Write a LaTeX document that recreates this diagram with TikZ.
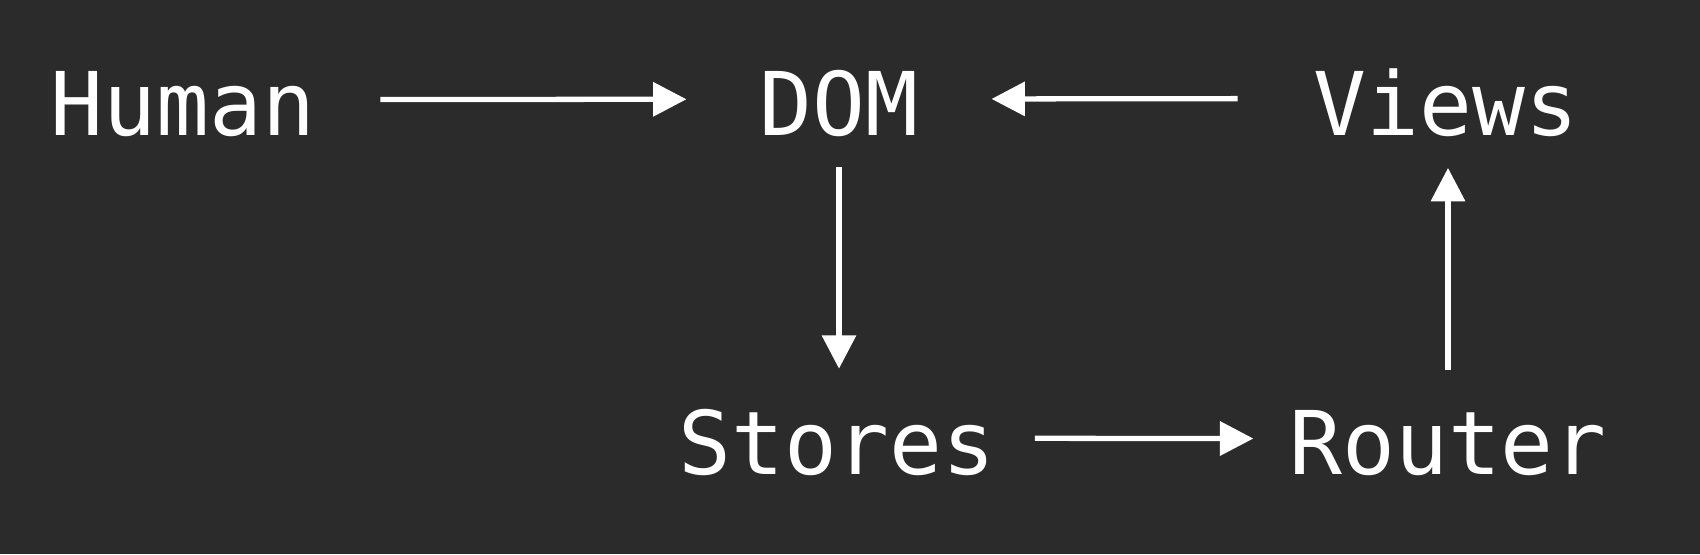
\documentclass[tikz,border=0pt]{standalone}
\usepackage{fontspec}
\setmonofont{DejaVu Sans Mono}
\usepackage{tikz}
\usetikzlibrary{arrows.meta,calc}
\definecolor{fond}{HTML}{2B2B2B}
\tikzstyle{word}=[text=white, inner sep=0pt, outer sep=0pt, anchor=base, font=\ttfamily\fontsize{25}{30}\selectfont]
\newcommand{\word}{\node[word]}

\begin{document}
\begin{tikzpicture}[x=0.01cm, y=-0.01cm]
			\tikzstyle{flow}=[draw=white, line width=1.5pt, -{Triangle[length=9.5pt,width=9.5pt]}]
			\tikzstyle{flowh}=[flow, transform canvas={yshift=1.1pt}]
			\fill[fond] (0,0) rectangle (1700,554);
			% Noeuds du haut
			\word (human) at (183,135) {Human};
			\word (dom) at (839,135) {DOM};
			\word (views) at (1446,135) {Views};
			% Noeuds du bas
			\word (stores) at (837,474) {Stores};
			\word (router) at (1448,474) {Router};
			
			\path
			% Ligne du haut
			(human) edge[flowh, shorten <=18.5pt, shorten >=20.8pt] (dom)
			(views) edge[flowh, shorten <=21.6pt, shorten >=20.8pt] (dom)
			% Descente et remontee
			(dom.south) edge[flow, shorten <=8.8pt, shorten >=11.4pt] (dom.south |- stores.north)
			(stores) edge[flowh, shorten <=11.1pt, shorten >=10.2pt] (router)
			(router.north) edge[flow, shorten <=11.4pt, shorten >=9pt] (router.north |- views.south)
			;
		\end{tikzpicture}
\end{document}
